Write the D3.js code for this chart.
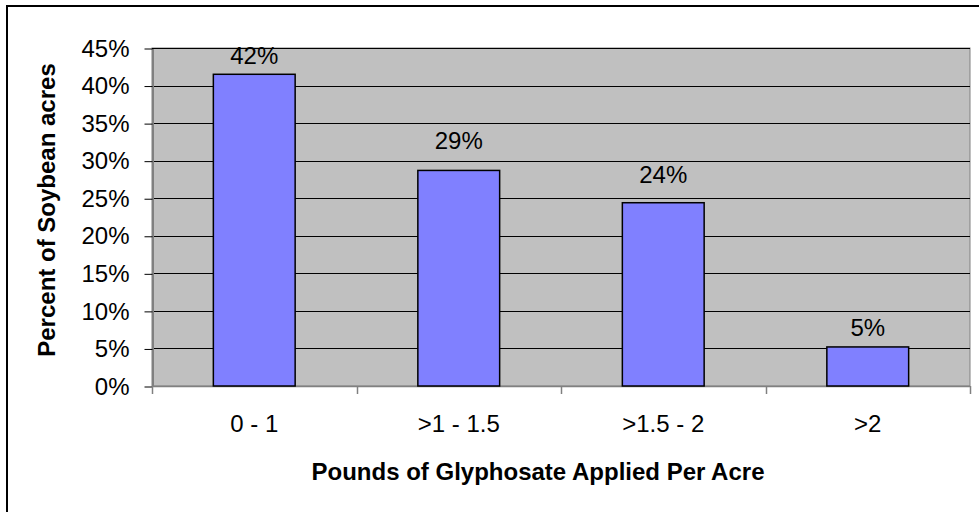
<!DOCTYPE html>
<html>
<head>
<meta charset="utf-8">
<script src="https://cdn.jsdelivr.net/npm/d3@7/dist/d3.min.js"></script>
<style>
  html, body { margin: 0; padding: 0; background: #fff; }
  svg { display: block; font-family: "Liberation Sans", Arial, sans-serif; }
</style>
</head>
<body>
<svg id="chart" width="979" height="512"></svg>
<script>
// Share of soybean acres by glyphosate rate (lb per acre)
const categories = ["0 - 1", ">1 - 1.5", ">1.5 - 2", ">2"];
const percentAcres = [41.5, 28.7, 24.4, 5.2];
const yTicks = [0, 5, 10, 15, 20, 25, 30, 35, 40, 45];
const xTitle = "Pounds of Glyphosate Applied Per Acre";
const yTitle = "Percent of Soybean acres";

// Vertical lift of each value label above its bar (px)
const labelLift = [10, 21, 20, 11];

const svg = d3.select("#chart");
const plot = { left: 152, right: 970, top: 48, bottom: 386 };
const fontSize = 24;

// Outer frame
svg.append("rect")
  .attr("x", 7).attr("y", 6)
  .attr("width", 1000).attr("height", 520)
  .attr("fill", "#fff").attr("stroke", "#000").attr("stroke-width", 2);

const x = d3.scaleBand().domain(categories).range([plot.left, plot.right]);
const y = d3.scaleLinear().domain([0, 45]).range([plot.bottom, plot.top]);

// Plot area background
svg.append("rect")
  .attr("x", plot.left).attr("y", plot.top)
  .attr("width", plot.right - plot.left).attr("height", plot.bottom - plot.top)
  .attr("fill", "#c0c0c0").attr("stroke", "#808080").attr("stroke-width", 1);

// Horizontal gridlines
svg.append("g").selectAll("line")
  .data(yTicks.filter(t => t > 0))
  .join("line")
  .attr("x1", plot.left).attr("x2", plot.right)
  .attr("y1", d => Math.round(y(d)) + 0.5).attr("y2", d => Math.round(y(d)) + 0.5)
  .attr("stroke", "#000").attr("stroke-width", 1);

// Y axis
const yAxis = svg.append("g")
  .attr("transform", `translate(${plot.left + 0.5},0.5)`)
  .call(d3.axisLeft(y).tickValues(yTicks).tickFormat(d => d + "%").tickSizeInner(8).tickSizeOuter(0).tickPadding(15));
yAxis.select(".domain").attr("stroke", "#808080").attr("stroke-width", 2);
yAxis.selectAll(".tick line").attr("stroke", "#000");
yAxis.selectAll(".tick text")
  .attr("font-size", fontSize).attr("fill", "#000")
  .attr("font-family", "Liberation Sans, Arial, sans-serif");

// X axis with tick marks on category boundaries
const xAxis = svg.append("g");
xAxis.append("line")
  .attr("x1", plot.left).attr("x2", plot.right)
  .attr("y1", plot.bottom + 0.5).attr("y2", plot.bottom + 0.5)
  .attr("stroke", "#808080").attr("stroke-width", 1.5);
const boundaries = categories.map(c => x(c)).concat([x.range()[1]]);
xAxis.selectAll("line.tick")
  .data(boundaries)
  .join("line")
  .attr("class", "tick")
  .attr("x1", d => Math.round(d) + 0.5).attr("x2", d => Math.round(d) + 0.5)
  .attr("y1", plot.bottom).attr("y2", plot.bottom + 8)
  .attr("stroke", "#808080").attr("stroke-width", 1.5);
xAxis.selectAll("text")
  .data(categories)
  .join("text")
  .attr("x", d => x(d) + x.bandwidth() / 2)
  .attr("y", plot.bottom + 46)
  .attr("text-anchor", "middle")
  .attr("font-size", fontSize)
  .text(d => d);

// Bars
const barFrac = 0.4;
svg.append("g").selectAll("rect")
  .data(categories)
  .join("rect")
  .attr("x", d => x(d) + x.bandwidth() * (1 - barFrac) / 2)
  .attr("width", x.bandwidth() * barFrac)
  .attr("y", (d, i) => y(percentAcres[i]))
  .attr("height", (d, i) => y(0) - y(percentAcres[i]))
  .attr("fill", "#8080ff")
  .attr("stroke", "#000")
  .attr("stroke-width", 1.5);

// Value labels
svg.append("g").selectAll("text")
  .data(categories)
  .join("text")
  .attr("x", d => x(d) + x.bandwidth() / 2)
  .attr("y", (d, i) => y(percentAcres[i]) - labelLift[i])
  .attr("text-anchor", "middle")
  .attr("font-size", fontSize)
  .text((d, i) => Math.round(percentAcres[i]) + "%");

// Axis titles
svg.append("text")
  .attr("x", 538)
  .attr("y", 480)
  .attr("text-anchor", "middle")
  .attr("font-size", fontSize)
  .attr("font-weight", "bold")
  .text(xTitle);

svg.append("text")
  .attr("transform", `translate(55,210) rotate(-90)`)
  .attr("text-anchor", "middle")
  .attr("font-size", fontSize)
  .attr("font-weight", "bold")
  .text(yTitle);
</script>
</body>
</html>
